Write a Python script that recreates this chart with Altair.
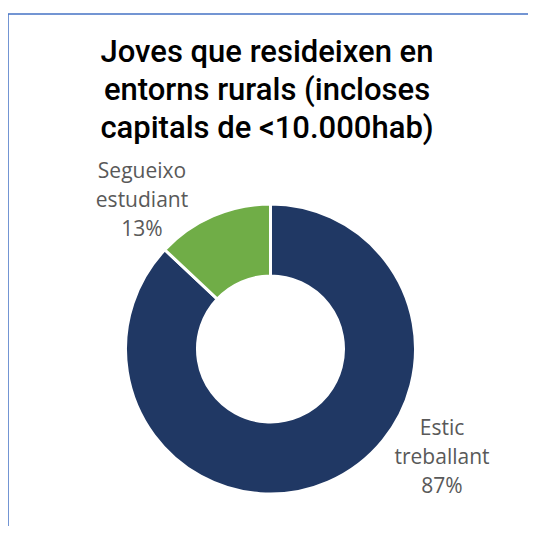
import altair as alt
import pandas as pd

categories = ["Estic treballant", "Segueixo estudiant"]
values = [87, 13]
colors = ["#203864", "#70AD47"]
title_lines = ["Joves que resideixen en", "entorns rurals (incloses", "capitals de <10.000hab)"]

df = pd.DataFrame({"cat": categories, "pct": values, "order": [0, 1]})

W, H = 520, 512
CX, CY = 262.5, 335

base = alt.Chart(df)

color_scale = alt.Scale(domain=categories, range=colors)

arc = base.mark_arc(outerRadius=145, innerRadius=73, stroke="white", strokeWidth=3).encode(
    theta=alt.Theta("pct:Q", stack=True),
    order=alt.Order("order:Q"),
    color=alt.Color("cat:N", scale=color_scale, legend=None),
    x=alt.value(CX), y=alt.value(CY),
)

label_style = dict(font="Open Sans", fontSize=21, color="#595959", lineBreak=" ",
                   lineHeight=29, align="center", baseline="middle")

lab_green = base.transform_filter(alt.datum.cat == "Segueixo estudiant").transform_calculate(
    lab=alt.datum.cat + " " + alt.datum.pct + "%"
).mark_text(**label_style).encode(text="lab:N", x=alt.value(134), y=alt.value(158))

lab_blue = base.transform_filter(alt.datum.cat == "Estic treballant").transform_calculate(
    lab=alt.datum.cat + " " + alt.datum.pct + "%"
).mark_text(**label_style).encode(text="lab:N", x=alt.value(434), y=alt.value(415))

title_df = pd.DataFrame({"t": ["\n".join(title_lines)]})
title = alt.Chart(title_df).mark_text(font="Roboto", fontWeight=500, fontSize=31, lineBreak="\n",
                                       lineHeight=38, align="center", baseline="middle",
                                       color="#000000").encode(
    text="t:N", x=alt.value(259), y=alt.value(38.5))

border_left = alt.Chart(title_df).mark_rule(color="#4472C4", strokeWidth=1.5).encode(
    x=alt.value(0), y=alt.value(0), y2=alt.value(H))
border_top = alt.Chart(title_df).mark_rule(color="#4472C4", strokeWidth=1.5).encode(
    x=alt.value(0), x2=alt.value(W), y=alt.value(0))

chart = alt.layer(border_left, border_top, arc, lab_green, lab_blue, title).properties(
    width=W, height=H,
    autosize=alt.AutoSizeParams(type="none"),
    padding={"left": 0, "top": 6, "right": 0, "bottom": 0},
).configure_view(stroke=None)

chart.save("out.html", embed_options={"renderer": "svg", "actions": False})
